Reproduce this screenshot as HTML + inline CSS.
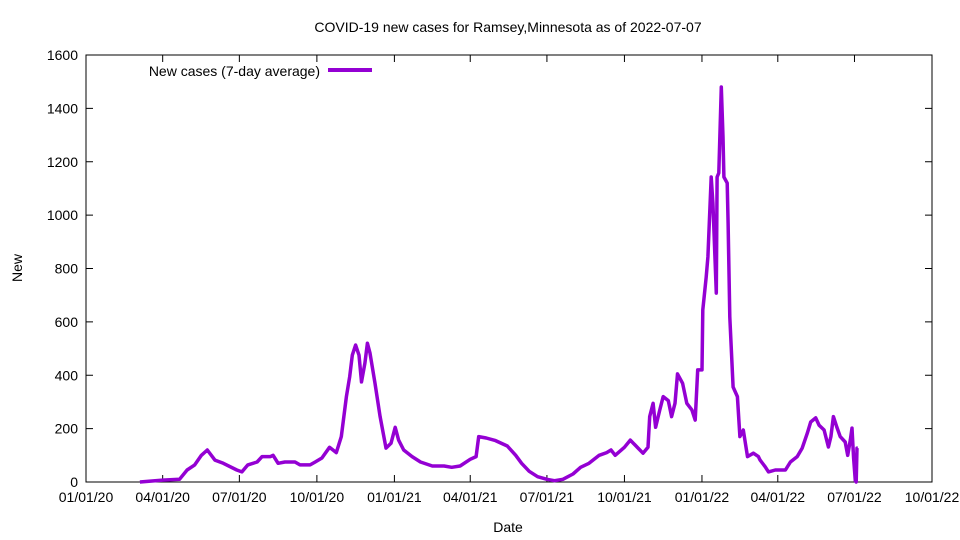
<!DOCTYPE html>
<html><head><meta charset="utf-8"><style>
body{margin:0;background:#fff;}
svg{display:block;font-family:"Liberation Sans",sans-serif;}
</style></head><body>
<svg id="chart" width="960" height="540" xmlns="http://www.w3.org/2000/svg">
<rect width="960" height="540" fill="#fff"/>
<text x="508" y="32" font-size="14" text-anchor="middle">COVID-19 new cases for Ramsey,Minnesota as of 2022-07-07</text>
<text x="508" y="532" font-size="14" text-anchor="middle">Date</text>
<text x="22" y="268" font-size="14" text-anchor="middle" transform="rotate(-90 22 268)">New</text>
<g id="grid"></g>
<rect x="86" y="55" width="846" height="427" fill="none" stroke="#000" stroke-width="1"/>
<g id="series"></g>
<g>
<text x="320" y="76" font-size="14" text-anchor="end">New cases (7-day average)</text>
<line x1="328" y1="70" x2="372" y2="70" stroke="#9400d3" stroke-width="4"/>
</g>
</svg>
<script>
const dates=["2020-03-05","2020-04-01","2020-04-21","2020-04-30","2020-05-09","2020-05-17","2020-05-24","2020-06-02","2020-06-12","2020-06-28","2020-07-04","2020-07-11","2020-07-22","2020-07-28","2020-08-07","2020-08-10","2020-08-16","2020-08-24","2020-09-05","2020-09-11","2020-09-23","2020-09-29","2020-10-07","2020-10-16","2020-10-24","2020-10-30","2020-11-05","2020-11-09","2020-11-12","2020-11-16","2020-11-20","2020-11-23","2020-11-27","2020-11-30","2020-12-03","2020-12-09","2020-12-15","2020-12-22","2020-12-28","2021-01-02","2021-01-06","2021-01-12","2021-01-22","2021-02-01","2021-02-15","2021-03-01","2021-03-10","2021-03-20","2021-04-01","2021-04-08","2021-04-11","2021-04-20","2021-05-01","2021-05-15","2021-05-25","2021-06-01","2021-06-10","2021-06-20","2021-07-01","2021-07-10","2021-07-20","2021-08-01","2021-08-10","2021-08-20","2021-09-01","2021-09-10","2021-09-15","2021-09-20","2021-10-01","2021-10-08","2021-10-23","2021-10-29","2021-10-31","2021-11-04","2021-11-07","2021-11-12","2021-11-16","2021-11-22","2021-11-26","2021-11-30","2021-12-03","2021-12-09","2021-12-14","2021-12-20","2021-12-24","2021-12-27","2022-01-01","2022-01-02","2022-01-06","2022-01-08","2022-01-12","2022-01-14","2022-01-18","2022-01-19","2022-01-21","2022-01-24","2022-01-26","2022-01-27","2022-01-31","2022-02-01","2022-02-03","2022-02-07","2022-02-12","2022-02-15","2022-02-19","2022-02-24","2022-03-03","2022-03-09","2022-03-11","2022-03-17","2022-03-21","2022-03-29","2022-04-10","2022-04-16","2022-04-24","2022-04-30","2022-05-06","2022-05-10","2022-05-16","2022-05-20","2022-05-26","2022-05-31","2022-06-03","2022-06-06","2022-06-10","2022-06-14","2022-06-20","2022-06-23","2022-06-26","2022-06-28","2022-06-30","2022-07-02","2022-07-03","2022-07-04","2022-07-05"];
const cases=[0,7,10,45,64,100,120,82,70,45,38,64,75,95,95,100,70,75,75,64,64,75,90,130,110,170,320,395,475,513,475,375,445,520,483,370,245,127,145,205,157,120,95,75,60,60,55,60,85,95,170,165,155,135,100,70,40,20,10,5,10,30,55,70,100,110,120,100,130,157,108,130,245,295,205,270,320,305,245,295,405,370,295,270,232,420,420,645,768,843,1143,1045,708,1143,1158,1480,1293,1143,1120,970,618,356,320,170,195,95,108,95,82,57,38,45,45,75,95,127,183,225,240,213,195,131,170,245,206,170,150,100,157,202,90,5,0,127,127];
const yTicks=[0,200,400,600,800,1000,1200,1400,1600];
const xTicks=["2020-01-01","2020-04-01","2020-07-01","2020-10-01","2021-01-01","2021-04-01","2021-07-01","2021-10-01","2022-01-01","2022-04-01","2022-07-01","2022-10-01"];
const xTickLabels=["01/01/20","04/01/20","07/01/20","10/01/20","01/01/21","04/01/21","07/01/21","10/01/21","01/01/22","04/01/22","07/01/22","10/01/22"];

const NS="http://www.w3.org/2000/svg";
const L=86,R=932,T=55,B=482;
const t0=Date.UTC(2020,0,1),t1=Date.UTC(2022,9,1);
function ts(s){const p=s.split("-");return Date.UTC(+p[0],+p[1]-1,+p[2]);}
function xs(s){return L+(ts(s)-t0)/(t1-t0)*(R-L);}
function ys(v){return B-v/1600*(B-T);}
function mk(tag,attrs,parent){const e=document.createElementNS(NS,tag);for(const k in attrs)e.setAttribute(k,attrs[k]);parent.appendChild(e);return e;}
const grid=document.getElementById("grid");
yTicks.forEach(v=>{
  const y=ys(v);
  const a=mk("line",{x1:L,y1:y,x2:L+7,y2:y,stroke:"#000"},grid);
  
  
  const b=mk("line",{x1:R-7,y1:y,x2:R,y2:y,stroke:"#000"},grid);
  
  
  const t=mk("text",{x:L-8,y:y+5,"font-size":14,"text-anchor":"end"},grid);
  
  
  t.textContent=v;
});
xTicks.forEach((d,i)=>{
  const x=xs(d);
  const a=mk("line",{x1:x,y1:B,x2:x,y2:B-7,stroke:"#000"},grid);
  
  
  const b=mk("line",{x1:x,y1:T,x2:x,y2:T+7,stroke:"#000"},grid);
  
  
  const t=mk("text",{x:x,y:B+20,"font-size":14,"text-anchor":"middle"},grid);
  
  
  t.textContent=xTickLabels[i];
});
const pts=dates.map((d,i)=>xs(d).toFixed(1)+","+ys(cases[i]).toFixed(1)).join(" ");
const line=mk("polyline",{points:pts,fill:"none",stroke:"#9400d3","stroke-width":3.5,"stroke-linejoin":"round"},document.getElementById("series"));


</script>
</body></html>
